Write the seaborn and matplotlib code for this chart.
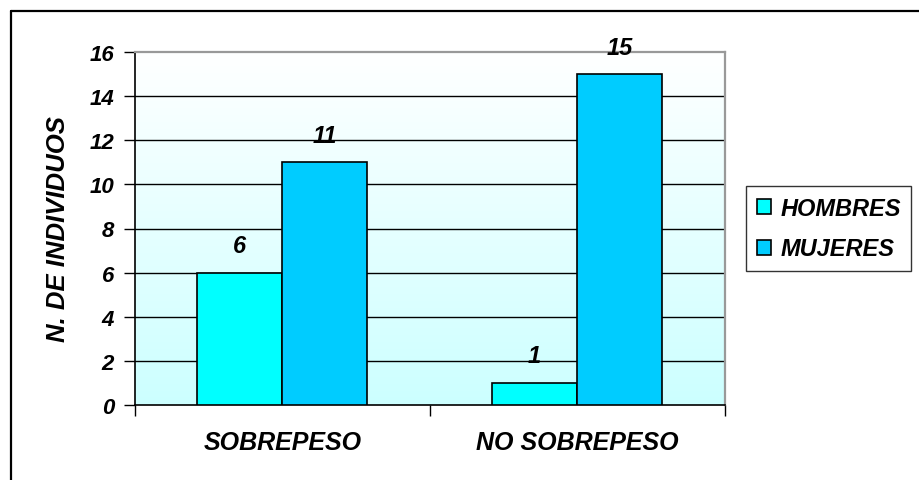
import numpy as np
import pandas as pd
import matplotlib
matplotlib.use("Agg")
import matplotlib.pyplot as plt
import seaborn as sns
from matplotlib.lines import Line2D
from matplotlib.colors import LinearSegmentedColormap

# ---- data ----
categories = ["SOBREPESO", "NO SOBREPESO"]
series_names = ["HOMBRES", "MUJERES"]
hombres = [6, 1]
mujeres = [11, 15]
yticks = [0, 2, 4, 6, 8, 10, 12, 14, 16]
ylabel = "N. DE INDIVIDUOS"
colors = ["#00FFFF", "#00CCFF"]

df = pd.DataFrame({
    "cat": categories * 2,
    "serie": [series_names[0]] * 2 + [series_names[1]] * 2,
    "val": hombres + mujeres,
})

sns.set_theme(style="white")
plt.rcParams["font.family"] = ["Liberation Sans", "DejaVu Sans"]
plt.rcParams["font.weight"] = "bold"
plt.rcParams["font.style"] = "italic"
plt.rcParams["text.color"] = "black"
plt.rcParams["xtick.color"] = "black"
plt.rcParams["ytick.color"] = "black"
plt.rcParams["axes.labelcolor"] = "black"

W, H = 919, 481
fig = plt.figure(figsize=(W / 100, H / 100), dpi=100)
fig.patch.set_facecolor("white")
L, R, T, B = 135, 724.5, 53.3, 405.7
ax = fig.add_axes([L / W, 1 - B / H, (R - L) / W, (B - T) / H])

# gradient background: light cyan at bottom -> white at top
grad = np.linspace(0, 1, 256).reshape(-1, 1)
cmap = LinearSegmentedColormap.from_list("bg", ["#CCFFFF", "#FFFFFF"])
ax.imshow(grad, aspect="auto", cmap=cmap, extent=[-0.5, 1.5, 0, 16],
          origin="lower", zorder=0)

sns.barplot(data=df, x="cat", y="val", hue="serie", order=categories,
            hue_order=series_names, palette=colors, width=0.576,
            edgecolor="black", linewidth=1.2, saturation=1, ax=ax, zorder=3,
            legend=True)

ax.set_xlim(-0.5, 1.5)
ax.set_ylim(0, 16)
ax.set_yticks(yticks)
ax.set_yticklabels([str(t) for t in yticks], fontsize=16, fontweight="bold",
                   fontstyle="italic", color="black")
for t in yticks[1:-1]:
    ax.axhline(t, color="black", lw=1.0, zorder=1)

ax.set_xticks([0, 1])
ax.set_xticklabels(categories, fontsize=18, fontweight="bold", fontstyle="italic", color="black")
ax.tick_params(axis="x", which="major", length=0, pad=18)
ax.set_xticks([-0.5, 0.5, 1.5], minor=True)
ax.tick_params(axis="x", which="minor", length=8, width=1, color="black", direction="out", bottom=True)
ax.tick_params(axis="y", length=8, width=1, color="black", direction="out", left=True, pad=7)
ax.set_xlabel("")
ax.set_ylabel(ylabel, fontsize=18.5, fontweight="bold", fontstyle="italic",
              labelpad=14, color="black")

for s in ["left", "bottom"]:
    ax.spines[s].set_color("black")
    ax.spines[s].set_linewidth(1.2)
for s in ["top", "right"]:
    ax.spines[s].set_color("#999999")
    ax.spines[s].set_linewidth(1.6)

for c in ax.containers:
    ax.bar_label(c, labels=[f"{int(v)}" for v in c.datavalues], padding=11,
                 fontsize=17, fontweight="bold", fontstyle="italic", color="black")

handles, labels = ax.get_legend_handles_labels()
if ax.legend_:
    ax.legend_.remove()
leg = fig.legend(handles, labels, loc="upper left",
                 bbox_to_anchor=(746 / W, 1 - 187 / H),
                 frameon=True, fancybox=False, shadow=False, edgecolor="black",
                 prop={"family": "Liberation Sans", "weight": "bold", "style": "italic", "size": 17},
                 handlelength=0.6, handleheight=0.6, handletextpad=0.4,
                 labelspacing=0.75, borderpad=0.45, borderaxespad=0)
leg.get_frame().set_linewidth(1.0)
for t in leg.get_texts():
    t.set_color("black")

# outer chart border (top and left)
fig.add_artist(Line2D([10.5 / W, 1.0], [1 - 11.5 / H, 1 - 11.5 / H], transform=fig.transFigure,
                      color="black", lw=1.6))
fig.add_artist(Line2D([10.5 / W, 10.5 / W], [0, 1 - 11.5 / H], transform=fig.transFigure,
                      color="black", lw=1.6))

fig.savefig("out.png", dpi=100, facecolor="white")
